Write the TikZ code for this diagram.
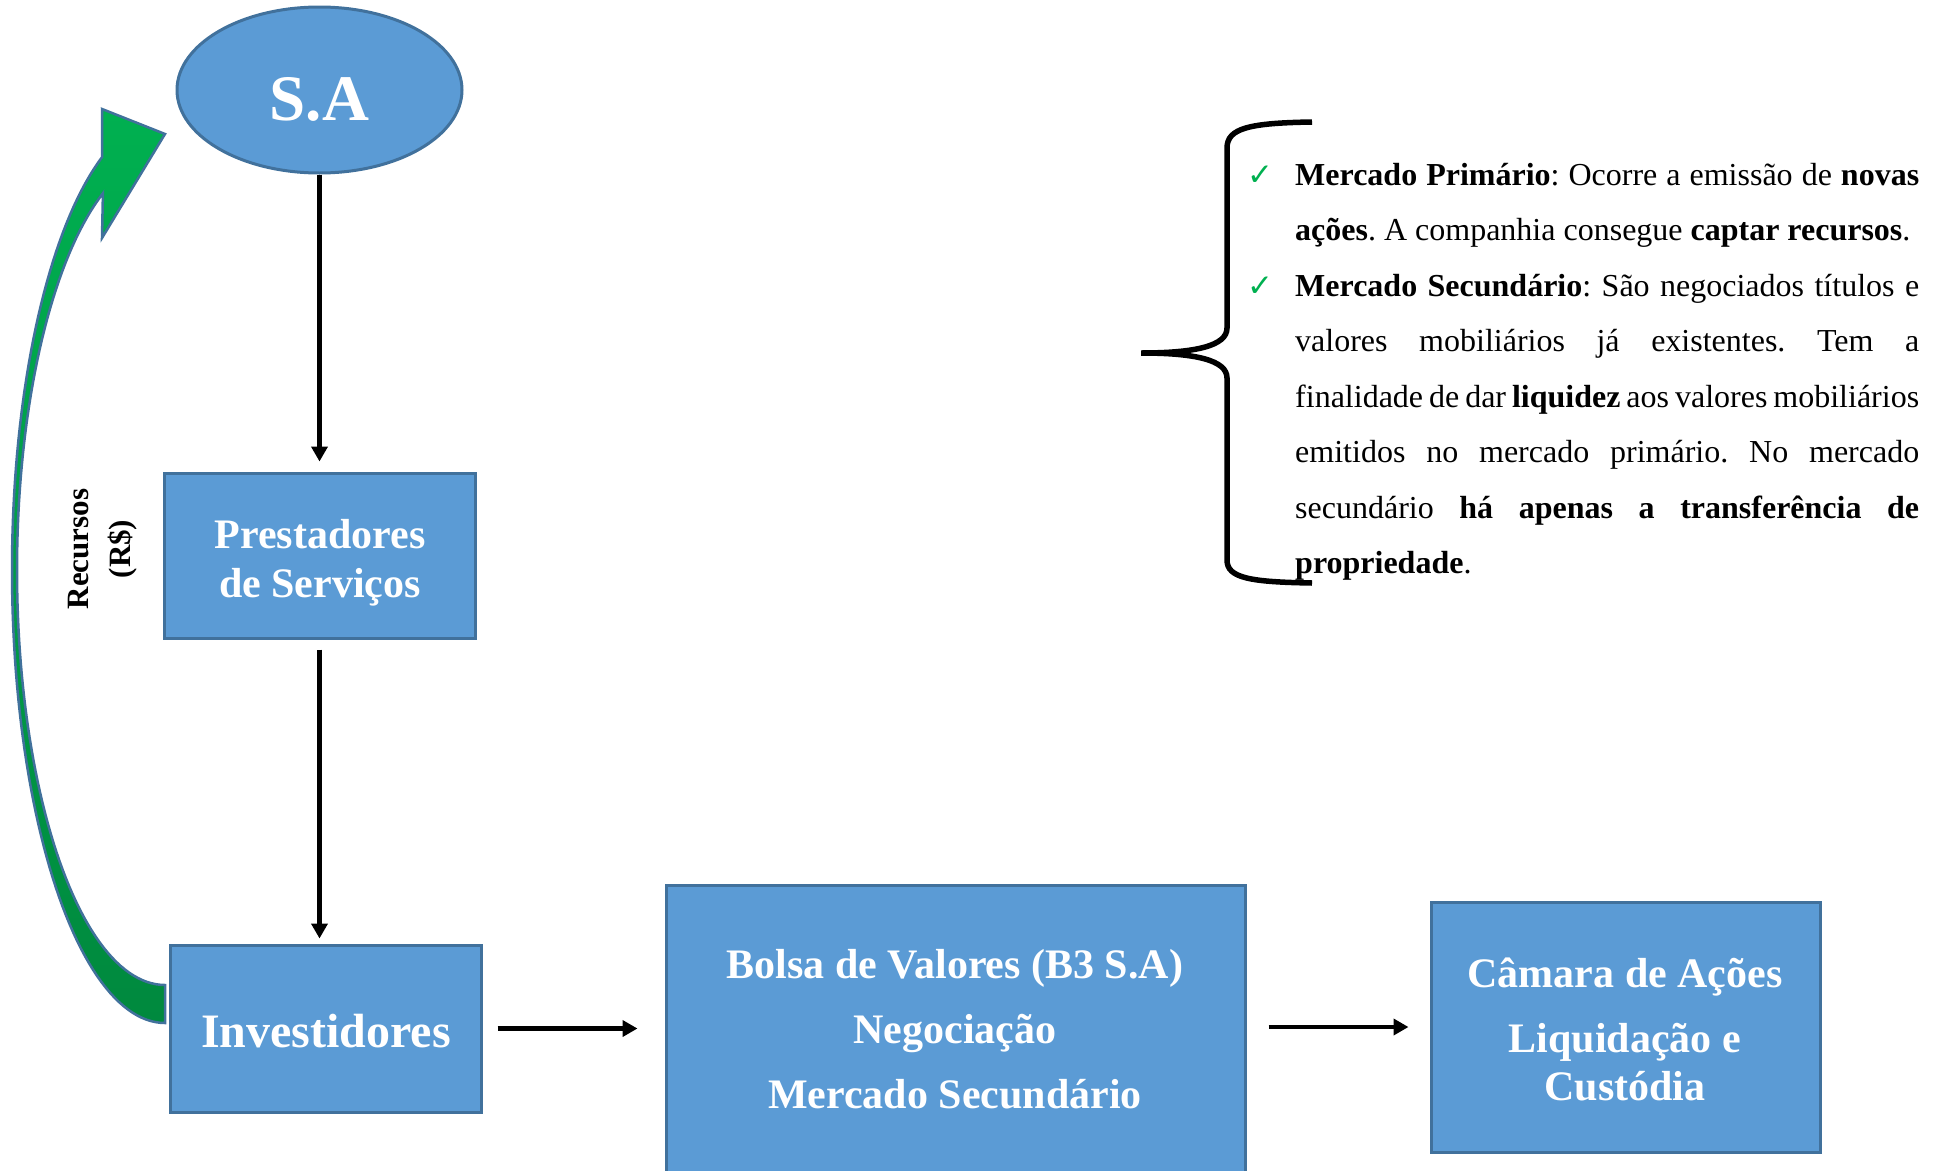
\documentclass[tikz,border=0pt]{standalone}
\usepackage{fontspec}
\setmainfont{Liberation Serif}
\newfontfamily\dejavu{DejaVu Sans}
\usetikzlibrary{arrows.meta,shapes.geometric}
\definecolor{boxblue}{RGB}{91,155,213}
\definecolor{boxedge}{RGB}{65,113,156}
\definecolor{grnA}{RGB}{0,176,80}
\definecolor{grnB}{RGB}{0,137,62}
\definecolor{chkgreen}{RGB}{0,176,80}
\newcommand\stackc[1]{\vtop{\halign{\hfil##\hfil\cr#1\crcr}}}
\newcommand\chkmark{\llap{{\dejavu\fontsize{31}{31}\selectfont\color{chkgreen}✓}\hspace{22pt}}}
\frenchspacing
\begin{document}
\begin{tikzpicture}[x=1pt,y=-1pt,
  bluebox/.style={rectangle, draw=boxedge, line width=3pt, fill=boxblue, inner sep=0pt},
  boxtext/.style={text=white, inner sep=0pt, anchor=base},
  conn/.style={line width=4.5pt, -{Triangle[width=16pt,length=15pt]}},
  bracestyle/.style={line width=5.5pt, line cap=butt},
]
\useasboundingbox (0,0) rectangle (1935,1170);
\clip (0,0) rectangle (1935,1170);

% green curved arrow
\shadedraw[top color=grnA, bottom color=grnB, draw=boxedge, line width=2.5pt, line join=miter]
  (165,1023) -- plot[domain=90:245.7, samples=90] ({165+153*cos(\x)},{570+453*sin(\x)})
  -- (102,109) -- (165,134) -- (102,238)
  -- plot[domain=245.2:90, samples=90] ({165+148*cos(\x)},{570+415*sin(\x)}) -- cycle;

% shapes
\node[ellipse, draw=boxedge, line width=3pt, fill=boxblue, minimum width=285pt, minimum height=166pt, inner sep=0pt] (sa) at (319.5,90) {};
\node[boxtext, font=\fontsize{65}{65}\selectfont\bfseries] (sat) at (319.5,120) {S.A};

\node[bluebox, minimum width=311pt, minimum height=165pt] (prest) at (319.5,555.5) {};
\node[boxtext, font=\fontsize{42}{49}\selectfont\bfseries] (prestt) at (320,548) {\stackc{Prestadores\cr de Serviços}};

\node[bluebox, minimum width=311pt, minimum height=167pt] (inv) at (325.5,1028.5) {};
\node[boxtext, font=\fontsize{48}{48}\selectfont\bfseries] (invt) at (326,1047) {Investidores};

\node[bluebox, minimum width=579pt, minimum height=293pt] (bolsa) at (955.5,1031.5) {};
\node[boxtext, font=\fontsize{42}{65}\selectfont\bfseries] (bolsat) at (955,978) {\stackc{Bolsa de Valores (B3 S.A)\cr Negociação\cr Mercado Secundário}};

\node[bluebox, minimum width=389pt, minimum height=250pt] (camara) at (1625.5,1027) {};
\node[boxtext, font=\fontsize{42}{48}\selectfont\bfseries] (camarat) at (1625,987) {\stackc{Câmara de Ações\cr\noalign{\vskip17pt} Liquidação e\cr Custódia}};

\node[rotate=90, align=center, inner sep=0pt, font=\fontsize{31}{42}\selectfont\bfseries] (rec) at (103,549) {Recursos\\(R\$)};

% connectors
\draw[conn, shorten >=10pt] (sa.south) -- (prest.north);
\draw[conn, shorten <=10pt, shorten >=5pt] (prest.south) -- (prest.south |- inv.north);
\draw[conn, shorten <=15pt, shorten >=27pt] (inv.east) -- (bolsa.west |- inv.east);
\draw[conn, shorten <=22pt, shorten >=21pt] (bolsa.east |- camara.west) -- (camara.west);

% brace
\draw[bracestyle] (1312,122) .. controls (1250,123) and (1227,128) .. (1227,148)
  -- (1227,328) .. controls (1227,346) and (1195,353) .. (1141,353)
  .. controls (1195,353) and (1227,360) .. (1227,378)
  -- (1227,560) .. controls (1227,578) and (1250,582) .. (1312,583);

% description text
\node[anchor=base west, inner sep=0pt, font=\fontsize{32}{55.5}\selectfont] (info) at (1295,185) {\vtop{%
\hbox to 624pt{\chkmark\textbf{Mercado Primário}: Ocorre a emissão de \textbf{novas}}
\hbox to 624pt{\textbf{ações}. A companhia consegue \textbf{captar recursos}.\hfil}
\hbox to 624pt{\chkmark\textbf{Mercado Secundário}: São negociados títulos e}
\hbox to 624pt{valores mobiliários já existentes. Tem a}
\hbox to 624pt{finalidade de dar \textbf{liquidez} aos valores mobiliários}
\hbox to 624pt{emitidos no mercado primário. No mercado}
\hbox to 624pt{secundário \textbf{há apenas a transferência de}}
\hbox to 624pt{\textbf{propriedade}.\hfil}}};
\end{tikzpicture}
\end{document}
